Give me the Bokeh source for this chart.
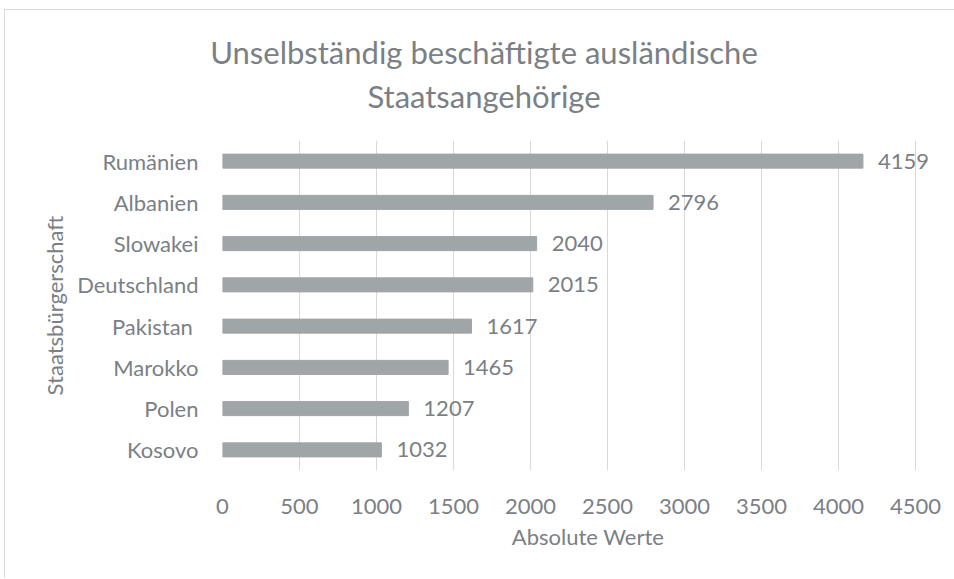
from bokeh.plotting import figure
from bokeh.models import ColumnDataSource, LabelSet, FactorRange, FixedTicker, Div
from bokeh.layouts import column
from bokeh.embed import file_html
from bokeh.resources import INLINE
from bokeh.core.properties import value

countries = ["Kosovo", "Polen", "Marokko", "Pakistan ", "Deutschland", "Slowakei", "Albanien", "Rumänien"]
counts = [1032, 1207, 1465, 1617, 2015, 2040, 2796, 4159]
x_ticks = [0, 500, 1000, 1500, 2000, 2500, 3000, 3500, 4000, 4500]
title_lines = ["Unselbständig beschäftigte ausländische", "Staatsangehörige"]

FONT = "Lato"
TXT = "#7A8085"
BAR = "#A0A5A8"
GRID = "#D9D9D9"
FS = "22px"

src = ColumnDataSource(dict(country=countries, count=counts, label=[str(c) for c in counts]))

title = Div(width=948, height=120,
            text=('<div style="width:948px; text-align:center; padding-top:15px; line-height:44px; '
                  f'font-family:{FONT}; font-size:31px; color:{TXT};">'
                  + "<br>".join(title_lines) + "</div>"))

p = figure(width=948, height=438, output_backend="svg", toolbar_location=None,
           y_range=FactorRange(*countries, range_padding=0), x_range=(0, 4747),
           min_border_left=217, min_border_right=0, min_border_top=0, min_border_bottom=108)

p.hbar(y="country", right="count", left=0, height=0.34, source=src, color=BAR)
p.add_layout(LabelSet(x="count", y="country", text="label", source=src, x_offset=15,
                      text_baseline="middle", text_align="left", text_color=TXT,
                      text_font=value(FONT), text_font_size=value(FS)))

p.outline_line_color = None
p.xgrid.ticker = FixedTicker(ticks=x_ticks)
p.xgrid.grid_line_color = GRID
p.ygrid.grid_line_color = None

p.xaxis.ticker = FixedTicker(ticks=x_ticks)
p.xaxis.axis_line_color = None
p.xaxis.major_tick_line_color = None
p.xaxis.minor_tick_line_color = None
p.xaxis.major_tick_out = 0
p.xaxis.major_label_standoff = 28
p.xaxis.major_label_text_color = TXT
p.xaxis.major_label_text_font = FONT
p.xaxis.major_label_text_font_size = FS
p.xaxis.axis_label = "Absolute Werte"
p.xaxis.axis_label_text_color = TXT
p.xaxis.axis_label_text_font = FONT
p.xaxis.axis_label_text_font_size = FS
p.xaxis.axis_label_text_font_style = "normal"
p.xaxis.axis_label_standoff = 6

p.yaxis.axis_line_color = None
p.yaxis.major_tick_line_color = None
p.yaxis.major_tick_out = 0
p.yaxis.major_label_standoff = 24
p.yaxis.major_label_text_color = TXT
p.yaxis.major_label_text_font = FONT
p.yaxis.major_label_text_font_size = FS
p.yaxis.axis_label = "Staatsbürgerschaft"
p.yaxis.axis_label_text_color = TXT
p.yaxis.axis_label_text_font = FONT
p.yaxis.axis_label_text_font_size = FS
p.yaxis.axis_label_text_font_style = "normal"
p.yaxis.axis_label_standoff = 6

layout = column(title, p, spacing=0,
                styles={"border-left": "1px solid #D9D9D9", "border-top": "1px solid #D9D9D9",
                        "margin-left": "4px", "margin-top": "9px", "background": "white"})

open("out.html", "w").write(file_html(layout, INLINE))
